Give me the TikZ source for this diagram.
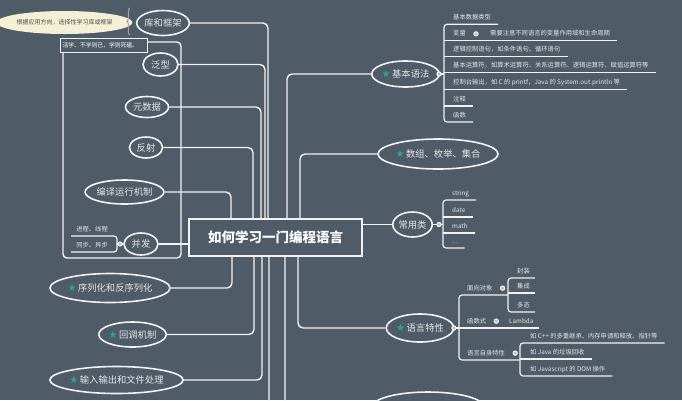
\documentclass[tikz,border=0pt]{standalone}
\usepackage{fontspec}
\setmainfont{Noto Sans CJK SC}
\newfontfamily\symfont{DejaVu Sans}
\usetikzlibrary{shapes.geometric, decorations.pathreplacing}

\definecolor{bgcol}{HTML}{4F5B66}
\definecolor{linecol}{HTML}{F2F2F2}
\definecolor{txtcol}{HTML}{E6E6E6}
\definecolor{starcol}{HTML}{2AA69C}
\definecolor{notecol}{HTML}{F4F0D6}
\definecolor{bracecol}{HTML}{A3A3A3}

\newcommand{\startag}{{\symfont\color{starcol}\fontsize{10}{10}\selectfont ★}\,}

\tikzset{
  topic/.style={ellipse, draw=linecol, line width=1.6pt, fill=bgcol, text=txtcol,
    font=\fontsize{9.3}{10}\selectfont, inner sep=0pt},
  conn/.style={draw=linecol, line width=1.4pt, rounded corners=5pt},
  sub/.style={draw=linecol, line width=1.2pt, rounded corners=3pt},
  leaf/.style={anchor=south west, inner xsep=0pt, inner ysep=3.5pt, text=txtcol,
    text height=5pt, text depth=1.3pt, font=\fontsize{6.3}{7}\selectfont},
  marker/.style={circle, draw=linecol, line width=1.1pt, fill=bgcol!40!white,
    minimum size=4.2pt, inner sep=0pt},
}

\begin{document}
\begin{tikzpicture}[x=1pt, y=-1pt]
  \useasboundingbox (0,0) rectangle (682,400);
  \fill[bgcol] (0,0) rectangle (682,400);
  \clip (0,0) rectangle (682,400);

  % boundary round the left group
  \draw[linecol, line width=1.4pt, rounded corners=4pt] (63,42) rectangle (181,258);
  \node[draw=linecol, line width=1.2pt, fill=bgcol, text=white, anchor=north west,
    font=\fontsize{5.8}{6}\selectfont, text width=83pt, align=left,
    minimum height=14pt, inner xsep=2pt, inner ysep=1pt] (motto) at (60,38) {活学、不学则已，学则死磕。};

  \node[draw=linecol, line width=1.6pt, fill=bgcol, text=white, minimum width=173pt,
    minimum height=37pt, font=\bfseries\fontsize{13.5}{14}\selectfont] (root) at (275.5,237.5) {如何学习一门编程语言};

  \node[topic, minimum width=52pt, minimum height=25pt] (kuhe) at (163,23) {库和框架};
  \node[topic, minimum width=35pt, minimum height=23pt] (fanxing) at (160.5,64.5) {泛型};
  \node[topic, minimum width=43pt, minimum height=21pt] (yuan) at (147,107) {元数据};
  \node[topic, minimum width=33pt, minimum height=21pt] (fanshe) at (146,147.5) {反射};
  \node[topic, minimum width=69pt, minimum height=24pt] (bianyi) at (124.5,192) {编译运行机制};
  \node[topic, minimum width=34pt, minimum height=22pt] (bingfa) at (141,244) {并发};
  \node[topic, minimum width=98pt, minimum height=29pt] (xulie) at (110,288) {\startag 序列化和反序列化};
  \node[topic, minimum width=62pt, minimum height=25pt] (huidiao) at (132.5,334.5) {\startag 回调机制};
  \node[topic, minimum width=107pt, minimum height=27pt] (shuru) at (116.5,380) {\startag 输入输出和文件处理};

  \node[topic, minimum width=61pt, minimum height=26pt] (jiben) at (405.5,74) {\startag 基本语法};
  \node[topic, minimum width=98pt, minimum height=30pt] (shuzu) at (438,154) {\startag 数组、枚举、集合};
  \node[topic, minimum width=39pt, minimum height=25pt] (changyong) at (412.5,224.5) {常用类};
  \node[topic, minimum width=60pt, minimum height=28pt] (yuyan) at (420,328) {\startag 语言特性};
  \node[topic, minimum width=112pt, minimum height=30pt] (more) at (428,407) {};
  \coordinate (moreL) at (150,430);

  \node[ellipse, fill=notecol, text=black!70, minimum width=115pt, minimum height=23pt,
    inner sep=0pt, font=\fontsize{6}{6}\selectfont] (note) at (64.5,22.5) {根据应用方向，选择性学习库或框架};
  \draw[bracecol, line width=1pt, decorate, decoration={brace, amplitude=3pt}]
    ([shift={(-6,12)}]kuhe.west) -- ([shift={(-6,-15)}]kuhe.west);

  \foreach \n/\s in {kuhe/-7.5, fanxing/-10.5, yuan/-14.5, fanshe/-22.5, bianyi/-44.5}
    \draw[conn] (\n.east) -| ([xshift=\s]root.north);
  \foreach \n/\s in {xulie/-43.5, huidiao/-21.5, shuru/-13.5}
    \draw[conn] ([xshift=\s]root.south) |- (\n.east);
  \draw[conn] (bingfa.east) -- (bingfa.east -| root.west);
  \draw[conn] ([xshift=11.5]root.north) |- (jiben.west);
  \draw[conn] ([xshift=24.5]root.north) |- (shuzu.west);
  \draw[conn] (root.east |- changyong.west) -- (changyong.west);
  \draw[conn] ([xshift=22.5]root.south) |- (yuyan.west);
  \draw[conn] ([xshift=9.5]root.south) |- (more.west);
  \draw[conn] ([xshift=-6.5]root.south) |- (moreL);

  % 并发
  \coordinate (bfx) at (117,0);
  \node[leaf, anchor=south east] (bf1) at (108,236) {进程、线程};
  \node[leaf, anchor=south east] (bf2) at (108,252) {同步、异步};
  \draw[sub] (bingfa.west) -- (bfx |- bingfa.west);
  \draw[sub] ([xshift=-5]bf1.south west) -- (bfx |- bf1.south) -- (bfx |- bf2.south) -- ([xshift=-5]bf2.south west);
  \node[marker] (bfm) at (120,244) {};

  % 基本语法
  \coordinate (jbx) at (444,0);
  \foreach \y/\t [count=\i] in {24.3/基本数据类型, 40.7/变量, 56.7/逻辑控制语句，如条件语句、循环语句,
      72.7/基本运算符，如算术运算符、关系运算符、逻辑运算符、赋值运算符等,
      89.3/控制台输出，如 C 的 printf，Java 的 System.out.println 等, 106/注释, 122/函数}
    \node[leaf] (jb\i) at (453,\y) {\t};
  \node[leaf] (jb2a) at (490,40.7) {需要注意不同语言的变量作用域和生命周期};
  \draw[sub] (jiben.east) -- (jbx |- jiben.east);
  \draw[sub] ([xshift=7]jb1.south east) -- (jbx |- jb1.south) -- (jbx |- jb7.south) -- ([xshift=7]jb7.south east);
  \foreach \i in {3,4,5,6}
    \draw[sub] (jbx |- jb\i.south) -- ([xshift=7]jb\i.south east);
  \draw[sub] (jbx |- jb2.south) -- ([xshift=7]jb2a.south east);
  \node[marker] (jbm) at (439,74) {};
  \node[marker] (jbv) at ([xshift=10]jb2.east) {};

  % 常用类
  \coordinate (cyx) at (443,0);
  \foreach \y/\t [count=\i] in {200/string, 217/date, 233/math}
    \node[leaf] (cy\i) at (452,\y) {\t};
  \node[leaf] (cy4) at (452,248) {...};
  \draw[sub] (changyong.east) -- (cyx |- changyong.east);
  \draw[sub] ([xshift=7]cy1.south east) -- (cyx |- cy1.south) -- (cyx |- cy4.south) -- ([xshift=7]cy4.south east);
  \foreach \i in {2,3}
    \draw[sub] (cyx |- cy\i.south) -- ([xshift=7]cy\i.south east);
  \node[marker] (cym) at (439,224.5) {};

  % 语言特性
  \coordinate (yyx) at (459,0);
  \coordinate (oox) at (508,0);
  \coordinate (lzx) at (520,0);
  \node[leaf] (yy1) at (467,295) {面向对象};
  \node[leaf] (yy2) at (467,328) {函数式};
  \node[leaf] (yy3) at (467,360) {语言自身特性};
  \node[leaf] (yy2a) at (509,328) {Lambda};
  \foreach \y/\t [count=\i] in {278/封装, 293/集成, 312/多态}
    \node[leaf] (oo\i) at (517,\y) {\t};
  \node[leaf] (lz1) at (530,343) {如 C++ 的多重继承、内存申请和释放、指针等};
  \node[leaf] (lz2) at (530,359) {如 Java 的垃圾回收};
  \node[leaf] (lz3) at (530,376) {如 Javascript 的 DOM 操作};
  \draw[sub] (yuyan.east) -- (yyx |- yuyan.east);
  \draw[sub] (oox |- yy1.south) -- (yyx |- yy1.south) -- (yyx |- yy3.south) -- (lzx |- yy3.south);
  \draw[sub] (yyx |- yy2.south) -- ([xshift=5]yy2a.south east);
  \draw[sub] ([xshift=5]oo1.south east) -- (oox |- oo1.south) -- (oox |- oo3.south) -- ([xshift=5]oo3.south east);
  \draw[sub] (oox |- oo2.south) -- ([xshift=5]oo2.south east);
  \draw[sub] ([xshift=7]lz1.south east) -- (lzx |- lz1.south) -- (lzx |- lz3.south) -- ([xshift=7]lz3.south east);
  \draw[sub] (lzx |- lz2.south) -- ([xshift=7]lz2.south east);
  \node[marker] (yym) at (454,328) {};
  \node[marker] (oom) at ([xshift=10]yy1.east) {};
  \node[marker] (fxm) at ([xshift=10]yy2.east) {};
  \node[marker] (lzm) at ([xshift=10]yy3.east) {};
\end{tikzpicture}
\end{document}
